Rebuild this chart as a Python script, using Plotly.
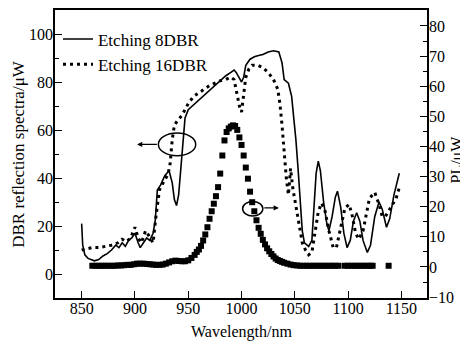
import plotly.graph_objects as go

# Etching 8DBR (solid), left axis
wl_8 = [850, 851, 853, 856, 862, 866, 870, 874, 878, 882, 885, 888, 891, 894, 897, 900, 903, 905,
        908, 911, 914, 917, 919, 921, 924, 928, 932, 935, 937, 939, 941, 943, 945, 947, 950, 955,
        960, 965, 970, 975, 980, 985, 990, 993, 995, 998, 1000, 1002, 1004, 1008, 1012, 1016, 1020,
        1025, 1030, 1035, 1038, 1040, 1044, 1047, 1049, 1051, 1053, 1055, 1057, 1059, 1063, 1066,
        1068, 1070, 1072, 1074, 1077, 1080, 1082, 1085, 1088, 1090, 1093, 1096, 1099, 1102, 1105,
        1108, 1111, 1114, 1118, 1121, 1125, 1129, 1132, 1136, 1139, 1143, 1148]
r_8 = [21, 12, 8, 6.5, 5.5, 6, 7.5, 8.5, 10, 12, 11, 13, 11.5, 14, 15, 17, 13, 11,
       13, 15, 14, 17, 22, 35, 37, 41, 43, 38, 31, 28.5, 33, 45, 57, 65, 68.5, 70.5,
       72.5, 74.5, 76.5, 78.5, 80.5, 82.5, 84, 85, 84, 81.5, 80, 82, 87, 89.5, 90.5, 91, 91.5,
       92.5, 93, 92.5, 88, 81, 79.5, 74, 66, 56, 44, 30, 18, 13, 11.5, 14,
       28, 42, 47, 43, 30, 21, 18, 24, 32, 34.5, 28, 17, 11, 14, 22,
       25.5, 22, 14, 9, 12, 24, 30, 27, 19.5, 23, 33, 42]

# Etching 16DBR (dotted), left axis
wl_16 = [850, 855, 860, 866, 872, 878, 884, 888, 892, 896, 900, 903, 906, 910, 913, 917, 920, 923,
         927, 931, 933, 935, 937, 940, 944, 950, 955, 960, 965, 970, 975, 980, 985, 990, 993, 996,
         998, 1000, 1002, 1004, 1007, 1010, 1015, 1020, 1025, 1030, 1034, 1036, 1038, 1040, 1042,
         1044, 1046, 1048, 1051, 1054, 1057, 1060, 1063, 1066, 1069, 1072, 1075, 1078, 1082, 1086,
         1089, 1093, 1097, 1101, 1104, 1107, 1110, 1114, 1117, 1120, 1125, 1129, 1132, 1135, 1139,
         1145, 1148]
r_16 = [10, 10.5, 11, 11, 11.5, 12, 13, 14.5, 13.5, 15, 19.5, 15, 13, 18, 16, 13, 25, 35,
        38.5, 41.5, 46, 56, 62, 64, 66, 71, 74, 75.5, 77, 78.5, 79.5, 80.5, 81, 82, 81, 75,
        70, 67.5, 75, 82, 85.5, 87, 87, 86, 84, 81, 77, 71, 62, 50, 40,
        33, 44, 36, 28, 20, 13, 10, 8, 9, 17, 26, 29.5, 27, 18, 11,
        11, 20, 27.5, 29, 24, 17, 14.5, 18, 25, 31.5, 34, 29, 24, 24, 27,
        31.5, 36]

# PL (squares), right axis
wl_pl = [860, 863, 866, 869, 872, 875, 878, 881, 884, 887, 890, 893, 896, 899, 902, 905, 908, 911,
         914, 917, 920, 923, 926, 929, 932, 935, 938, 941, 944, 947, 950, 953, 956, 958,
         960, 962, 964, 966, 968, 970, 972, 974, 976, 978, 980, 982, 984, 986, 988, 990, 992, 994,
         996, 998, 1000, 1002, 1004, 1006, 1008, 1010, 1012, 1014, 1016, 1018, 1020, 1022, 1024,
         1026, 1028, 1030, 1032, 1034, 1036, 1038, 1040, 1043, 1046, 1049, 1052, 1055, 1058, 1061,
         1064, 1067, 1070, 1073, 1076, 1079, 1082, 1085, 1088, 1091, 1097, 1100, 1103, 1106, 1109,
         1112, 1115, 1118, 1121, 1123, 1138]
pl = [0.4, 0.4, 0.4, 0.4, 0.4, 0.4, 0.4, 0.4, 0.5, 0.5, 0.6, 0.7, 0.7, 0.9, 1.1, 1.1, 1.1, 1.0,
      0.9, 0.8, 0.7, 0.7, 0.8, 1.1, 1.5, 1.9, 2.1, 2.0, 1.9, 1.9, 2.2, 3.0, 4.0, 5.0,
      5.8, 7.0, 8.8, 10.8, 13.2, 16, 18.5, 21, 23.5, 26.5, 31, 37, 42, 44.8, 46, 46.6, 47, 46.8,
      45.5, 43, 40.5, 37, 33, 29.3, 25, 21.5, 18.5, 15.5, 13, 11, 9, 7.5, 6.2,
      5.2, 4.3, 3.5, 2.8, 2.3, 2.0, 1.7, 1.4, 1.1, 0.8, 0.6, 0.5, 0.4, 0.4, 0.4,
      0.4, 0.4, 0.4, 0.4, 0.4, 0.4, 0.4, 0.4, 0.4, 0.4, 0.4, 0.4, 0.4, 0.4, 0.4,
      0.4, 0.4, 0.4, 0.4, 0.4, 0.4]

x_ticks = [850, 900, 950, 1000, 1050, 1100, 1150]

FONT = "Liberation Serif"

fig = go.Figure()
fig.add_trace(go.Scatter(x=wl_8, y=r_8, mode="lines", name="Etching 8DBR",
                         line=dict(color="black", width=1.6)))
fig.add_trace(go.Scatter(x=wl_16, y=r_16, mode="lines", name="Etching 16DBR",
                         line=dict(color="black", width=3, dash="3px,4px")))
fig.add_trace(go.Scatter(x=wl_pl, y=pl, mode="markers", name="PL", yaxis="y2", showlegend=False,
                         marker=dict(symbol="square", size=6, color="black", line=dict(width=0))))

# ellipses
fig.add_shape(type="circle", xref="x", yref="y", x0=922, x1=957, y0=49.3, y1=58.7,
              line=dict(color="black", width=1.5))
fig.add_shape(type="circle", xref="x", yref="y2", x0=1001, x1=1020, y0=16.9, y1=21.7,
              line=dict(color="black", width=1.5))
# arrows
fig.add_annotation(x=902, y=54, ax=922, ay=54, xref="x", yref="y", axref="x", ayref="y",
                   text="", showarrow=True, arrowhead=2, arrowsize=0.8, arrowwidth=1.3,
                   arrowcolor="black")
fig.add_annotation(x=1035, y=19.6, ax=1020, ay=19.6, xref="x", yref="y2", axref="x", ayref="y2",
                   text="", showarrow=True, arrowhead=2, arrowsize=0.8, arrowwidth=1.3,
                   arrowcolor="black")

# axis titles
fig.add_annotation(text="Wavelength/nm", xref="paper", yref="paper", x=0.5, y=-0.117,
                   showarrow=False, font=dict(family=FONT, size=16, color="black"),
                   xanchor="center", yanchor="middle")
fig.add_annotation(text="DBR reflection spectra/μW", xref="paper", yref="paper", x=-0.1, y=0.5,
                   showarrow=False, textangle=-90, font=dict(family=FONT, size=17, color="black"),
                   xanchor="center", yanchor="middle", borderpad=0)
fig.add_annotation(text="PL/μW", xref="paper", yref="paper", x=1.08, y=0.48,
                   showarrow=False, textangle=-90, font=dict(family=FONT, size=16, color="black"),
                   xanchor="center", yanchor="middle", borderpad=0)

axis_common = dict(showgrid=False, zeroline=False, showline=True, linecolor="black", linewidth=1.6,
                   ticks="inside", ticklen=7, tickwidth=1.4, tickcolor="black",
                   tickfont=dict(family=FONT, size=16, color="black"))

fig.update_layout(
    width=460, height=337,
    margin=dict(l=47, r=41, t=0, b=47),
    paper_bgcolor="white", plot_bgcolor="white",
    font=dict(family=FONT, color="black"),
    xaxis=dict(range=[825, 1174], tickvals=x_ticks, mirror=True, ticklabelstandoff=-5,
               **axis_common),
    yaxis=dict(range=[-10, 110], dtick=20, tick0=0, mirror=True, ticklabelstandoff=-3,
               minor=dict(dtick=10, ticks="inside", ticklen=4, tickcolor="black", showgrid=False),
               **axis_common),
    yaxis2=dict(range=[-10.3, 85.3], dtick=10, tick0=0, overlaying="y", side="right",
                ticklabelstandoff=-3,
                minor=dict(dtick=5, ticks="inside", ticklen=4, tickcolor="black", showgrid=False),
                **axis_common),
    legend=dict(x=0.008, y=0.96, xanchor="left", yanchor="top", bgcolor="rgba(0,0,0,0)",
                font=dict(family=FONT, size=17, color="black"), tracegroupgap=0,
                itemwidth=30),
    showlegend=True,
)

fig.write_html("out.html")
